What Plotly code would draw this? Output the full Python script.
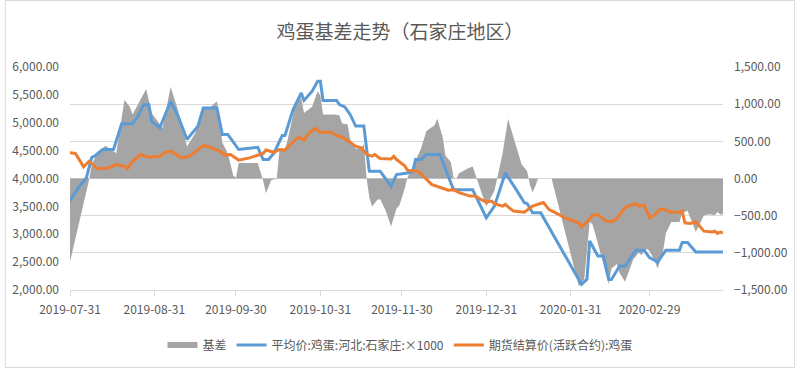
import plotly.graph_objects as go

title_text = "鸡蛋基差走势（石家庄地区）"

basis_name = "基差"
basis_dates = [
    "2019-07-31", "2019-08-07", "2019-08-08", "2019-08-10", "2019-08-13", "2019-08-17",
    "2019-08-20", "2019-08-22", "2019-08-23", "2019-08-28", "2019-08-30", "2019-09-03",
    "2019-09-06", "2019-09-09", "2019-09-12", "2019-09-15", "2019-09-18", "2019-09-20",
    "2019-09-23", "2019-09-25", "2019-09-27", "2019-09-29", "2019-09-30", "2019-10-01",
    "2019-10-08", "2019-10-10", "2019-10-11", "2019-10-13", "2019-10-15", "2019-10-16",
    "2019-10-18", "2019-10-19", "2019-10-22", "2019-10-24", "2019-10-25", "2019-10-28",
    "2019-10-30", "2019-10-31", "2019-11-01", "2019-11-05", "2019-11-07", "2019-11-08",
    "2019-11-10", "2019-11-11", "2019-11-13", "2019-11-15", "2019-11-16", "2019-11-17",
    "2019-11-18", "2019-11-19", "2019-11-21", "2019-11-22", "2019-11-24", "2019-11-26",
    "2019-11-28", "2019-11-29", "2019-11-30", "2019-12-01", "2019-12-02", "2019-12-04",
    "2019-12-07", "2019-12-09", "2019-12-12", "2019-12-13", "2019-12-15", "2019-12-16",
    "2019-12-18", "2019-12-19", "2019-12-20", "2019-12-21", "2019-12-24", "2019-12-26",
    "2019-12-27", "2019-12-29", "2019-12-31", "2020-01-03", "2020-01-04", "2020-01-06",
    "2020-01-08", "2020-01-10", "2020-01-13", "2020-01-15", "2020-01-16", "2020-01-17",
    "2020-01-18", "2020-01-19", "2020-01-24", "2020-02-03", "2020-02-05", "2020-02-07",
    "2020-02-08", "2020-02-09", "2020-02-14", "2020-02-15", "2020-02-17", "2020-02-18",
    "2020-02-20", "2020-02-23", "2020-02-25", "2020-02-26", "2020-02-28", "2020-02-29",
    "2020-03-02", "2020-03-03", "2020-03-05", "2020-03-06", "2020-03-08", "2020-03-11",
    "2020-03-12", "2020-03-14", "2020-03-17", "2020-03-18", "2020-03-20", "2020-03-22",
    "2020-03-24", "2020-03-25", "2020-03-26", "2020-03-27",
]
basis_values = [
    -1120, -20, 190, 340, 440, 340,
    1055, 965, 860, 1205, 880, 680,
    1235, 880, 430, 610, 950, 940,
    1040, 480, 340, 40, 10, 210,
    210, -30, -200, -20, -5, 390,
    390, 520, 1030, 1085, 880, 965,
    1175, 1115, 860, 860, 850, 740,
    730, 520, 400, 410, 460, 10,
    -255, -375, -285, -280, -430, -645,
    -405, -365, -255, -135, 10, 160,
    400, 640, 715, 805, 550, 310,
    220, 10, 0, 70, 130, 160,
    55, -165, -375, -165, 0, 340,
    805, 550, 190, 100, -80, -185,
    -105, 0, 0, -1450, -1360, -585,
    -615, -735, -1420, -1210, -1150, -1270,
    -1390, -1090, -1000, -1030, -945, -975,
    -1120, -1210, -975, -735, -585, -585,
    -465, -435, -720, -645, -495, -480,
    -495, -450, -485, -480,
]

avg_name = "平均价:鸡蛋:河北:石家庄:×1000"
avg_dates = [
    "2019-07-31", "2019-08-03", "2019-08-06", "2019-08-08", "2019-08-09", "2019-08-12",
    "2019-08-16", "2019-08-17", "2019-08-19", "2019-08-23", "2019-08-25", "2019-08-27",
    "2019-08-29", "2019-08-30", "2019-09-02", "2019-09-06", "2019-09-09", "2019-09-12",
    "2019-09-16", "2019-09-18", "2019-09-23", "2019-09-25", "2019-09-27", "2019-10-01",
    "2019-10-08", "2019-10-10", "2019-10-12", "2019-10-14", "2019-10-17", "2019-10-18",
    "2019-10-21", "2019-10-24", "2019-10-25", "2019-10-28", "2019-10-30", "2019-10-31",
    "2019-11-01", "2019-11-06", "2019-11-07", "2019-11-09", "2019-11-11", "2019-11-13",
    "2019-11-16", "2019-11-18", "2019-11-22", "2019-11-26", "2019-11-28", "2019-12-02",
    "2019-12-04", "2019-12-05", "2019-12-07", "2019-12-09", "2019-12-14", "2019-12-17",
    "2019-12-19", "2019-12-26", "2019-12-31", "2020-01-03", "2020-01-07", "2020-01-11",
    "2020-01-14", "2020-01-15", "2020-01-17", "2020-01-20", "2020-02-04", "2020-02-06",
    "2020-02-07", "2020-02-10", "2020-02-12", "2020-02-14", "2020-02-15", "2020-02-18",
    "2020-02-20", "2020-02-24", "2020-02-27", "2020-02-29", "2020-03-03", "2020-03-06",
    "2020-03-11", "2020-03-12", "2020-03-14", "2020-03-17", "2020-03-27",
]
avg_values = [
    3600, 3830, 4010, 4380, 4400, 4520,
    4520, 4670, 4980, 4980, 5115, 5325,
    5325, 5030, 4910, 5385, 5085, 4700,
    4940, 5265, 5265, 4790, 4790, 4520,
    4560, 4340, 4340, 4460, 4770, 4770,
    5235, 5535, 5400, 5565, 5745, 5745,
    5400, 5400, 5325, 5285, 5145, 4940,
    4940, 4130, 4130, 3860, 4070, 4100,
    4130, 4340, 4340, 4430, 4430, 4040,
    3800, 3800, 3295, 3505, 4100, 3800,
    3565, 3550, 3385, 3385, 2100, 2190,
    2880, 2610, 2610, 2190, 2190, 2430,
    2430, 2715, 2715, 2580, 2500, 2715,
    2715, 2850, 2850, 2680, 2680,
]

fut_name = "期货结算价(活跃合约):鸡蛋"
fut_dates = [
    "2019-07-31", "2019-08-02", "2019-08-03", "2019-08-05", "2019-08-07", "2019-08-10",
    "2019-08-14", "2019-08-17", "2019-08-20", "2019-08-21", "2019-08-23", "2019-08-26",
    "2019-08-29", "2019-09-02", "2019-09-04", "2019-09-06", "2019-09-10", "2019-09-13",
    "2019-09-18", "2019-09-20", "2019-09-24", "2019-09-26", "2019-09-28", "2019-10-01",
    "2019-10-05", "2019-10-10", "2019-10-11", "2019-10-14", "2019-10-16", "2019-10-18",
    "2019-10-20", "2019-10-23", "2019-10-25", "2019-10-27", "2019-10-29", "2019-10-31",
    "2019-11-04", "2019-11-06", "2019-11-08", "2019-11-11", "2019-11-13", "2019-11-15",
    "2019-11-17", "2019-11-19", "2019-11-20", "2019-11-22", "2019-11-25", "2019-11-26",
    "2019-11-27", "2019-11-28", "2019-12-01", "2019-12-02", "2019-12-06", "2019-12-09",
    "2019-12-11", "2019-12-12", "2019-12-15", "2019-12-17", "2019-12-19", "2019-12-21",
    "2019-12-25", "2019-12-27", "2019-12-29", "2019-12-31", "2020-01-02", "2020-01-03",
    "2020-01-06", "2020-01-07", "2020-01-08", "2020-01-10", "2020-01-14", "2020-01-15",
    "2020-01-17", "2020-01-21", "2020-01-23", "2020-01-29", "2020-02-03", "2020-02-04",
    "2020-02-06", "2020-02-08", "2020-02-10", "2020-02-13", "2020-02-15", "2020-02-17",
    "2020-02-20", "2020-02-22", "2020-02-24", "2020-02-25", "2020-02-27", "2020-02-29",
    "2020-03-02", "2020-03-04", "2020-03-05", "2020-03-08", "2020-03-11", "2020-03-12",
    "2020-03-13", "2020-03-15", "2020-03-17", "2020-03-20", "2020-03-23", "2020-03-24",
    "2020-03-25", "2020-03-26", "2020-03-27",
]
fut_values = [
    4460, 4450, 4370, 4210, 4310, 4175,
    4190, 4250, 4220, 4175, 4310, 4430,
    4380, 4400, 4470, 4490, 4370, 4400,
    4590, 4570, 4490, 4420, 4430, 4330,
    4370, 4450, 4510, 4470, 4520, 4510,
    4610, 4740, 4690, 4820, 4900, 4830,
    4830, 4770, 4745, 4650, 4580, 4550,
    4430, 4400, 4430, 4360, 4360, 4350,
    4400, 4340, 4230, 4150, 4130, 3995,
    3890, 3875, 3830, 3790, 3800, 3745,
    3685, 3685, 3625, 3575, 3595, 3550,
    3505, 3535, 3490, 3415, 3395, 3430,
    3505, 3570, 3445, 3295, 3205, 3130,
    3225, 3340, 3355, 3235, 3225, 3280,
    3475, 3520, 3550, 3505, 3520, 3295,
    3355, 3455, 3445, 3395, 3395, 3415,
    3205, 3195, 3225, 3055, 3040, 3055,
    3015, 3040, 3025,
]

x_tick_dates = ["2019-07-31", "2019-08-31", "2019-09-30", "2019-10-31",
                "2019-11-30", "2019-12-31", "2020-01-31", "2020-02-29"]
left_ticks = [2000, 2500, 3000, 3500, 4000, 4500, 5000, 5500, 6000]
right_ticks = [-1500, -1000, -500, 0, 500, 1000, 1500]

FONT = "Noto Sans CJK SC, Microsoft YaHei, sans-serif"
TXT = "#595959"
GRID = "#D9D9D9"

fig = go.Figure()
fig.add_trace(go.Scatter(
    x=basis_dates, y=basis_values, name=basis_name, mode="none",
    fill="tozeroy", fillcolor="#A5A5A5", yaxis="y",
))
fig.add_trace(go.Scatter(
    x=avg_dates, y=avg_values, name=avg_name, mode="lines",
    line=dict(color="#5B9BD5", width=3), yaxis="y2",
))
fig.add_trace(go.Scatter(
    x=fut_dates, y=fut_values, name=fut_name, mode="lines",
    line=dict(color="#ED7D31", width=3), yaxis="y2",
))

W, H = 800, 368
ml, mr, mt, mb = 66, 73, 67, 78
pw, ph = W - ml - mr, H - mt - mb

fig.update_layout(
    width=W, height=H,
    margin=dict(l=ml, r=mr, t=mt, b=mb),
    paper_bgcolor="white", plot_bgcolor="white",
    font=dict(family=FONT, color=TXT, size=12),
    title=dict(text=title_text, x=0.5, xanchor="center", y=1 - 32 / H,
               yanchor="middle", font=dict(size=19, color=TXT, family=FONT)),
    showlegend=True,
    legend=dict(orientation="h", xref="container", yref="container",
                x=0.5, xanchor="center", y=1 - 345 / H, yanchor="middle",
                font=dict(size=12, color=TXT, family=FONT),
                itemwidth=30, tracegroupgap=0),
    xaxis=dict(
        type="date", range=["2019-07-31", "2020-03-27"],
        tickvals=x_tick_dates, ticktext=x_tick_dates,
        showgrid=False, showline=True, linecolor=GRID, linewidth=1,
        ticks="outside", ticklen=5, tickcolor=GRID,
        tickfont=dict(size=12, color=TXT), ticklabelstandoff=4,
        zeroline=False,
    ),
    yaxis=dict(
        side="right", range=[-1500, 1500], tickvals=right_ticks,
        tickformat=",.2f", showgrid=True, gridcolor=GRID, gridwidth=1,
        zeroline=False, showline=False, ticks="",
        tickfont=dict(size=12, color=TXT), ticklabelstandoff=10,
    ),
    yaxis2=dict(
        side="left", overlaying="y", range=[2000, 6000], tickvals=left_ticks,
        tickformat=",.2f", showgrid=False, zeroline=False, showline=False,
        ticks="", tickfont=dict(size=12, color=TXT), ticklabelstandoff=10,
    ),
    shapes=[dict(
        type="rect", xref="paper", yref="paper",
        x0=-(ml - 0.5) / pw, x1=1 + (mr - 0.5) / pw,
        y0=-(mb - 0.5) / ph, y1=1 + (mt - 0.5) / ph,
        line=dict(color=GRID, width=1), fillcolor="rgba(0,0,0,0)", layer="below",
    )],
)

fig.write_html(
    "out.html",
    config={"displayModeBar": False},
    post_script="document.body.style.margin='0';document.body.style.overflow='hidden';",
)
